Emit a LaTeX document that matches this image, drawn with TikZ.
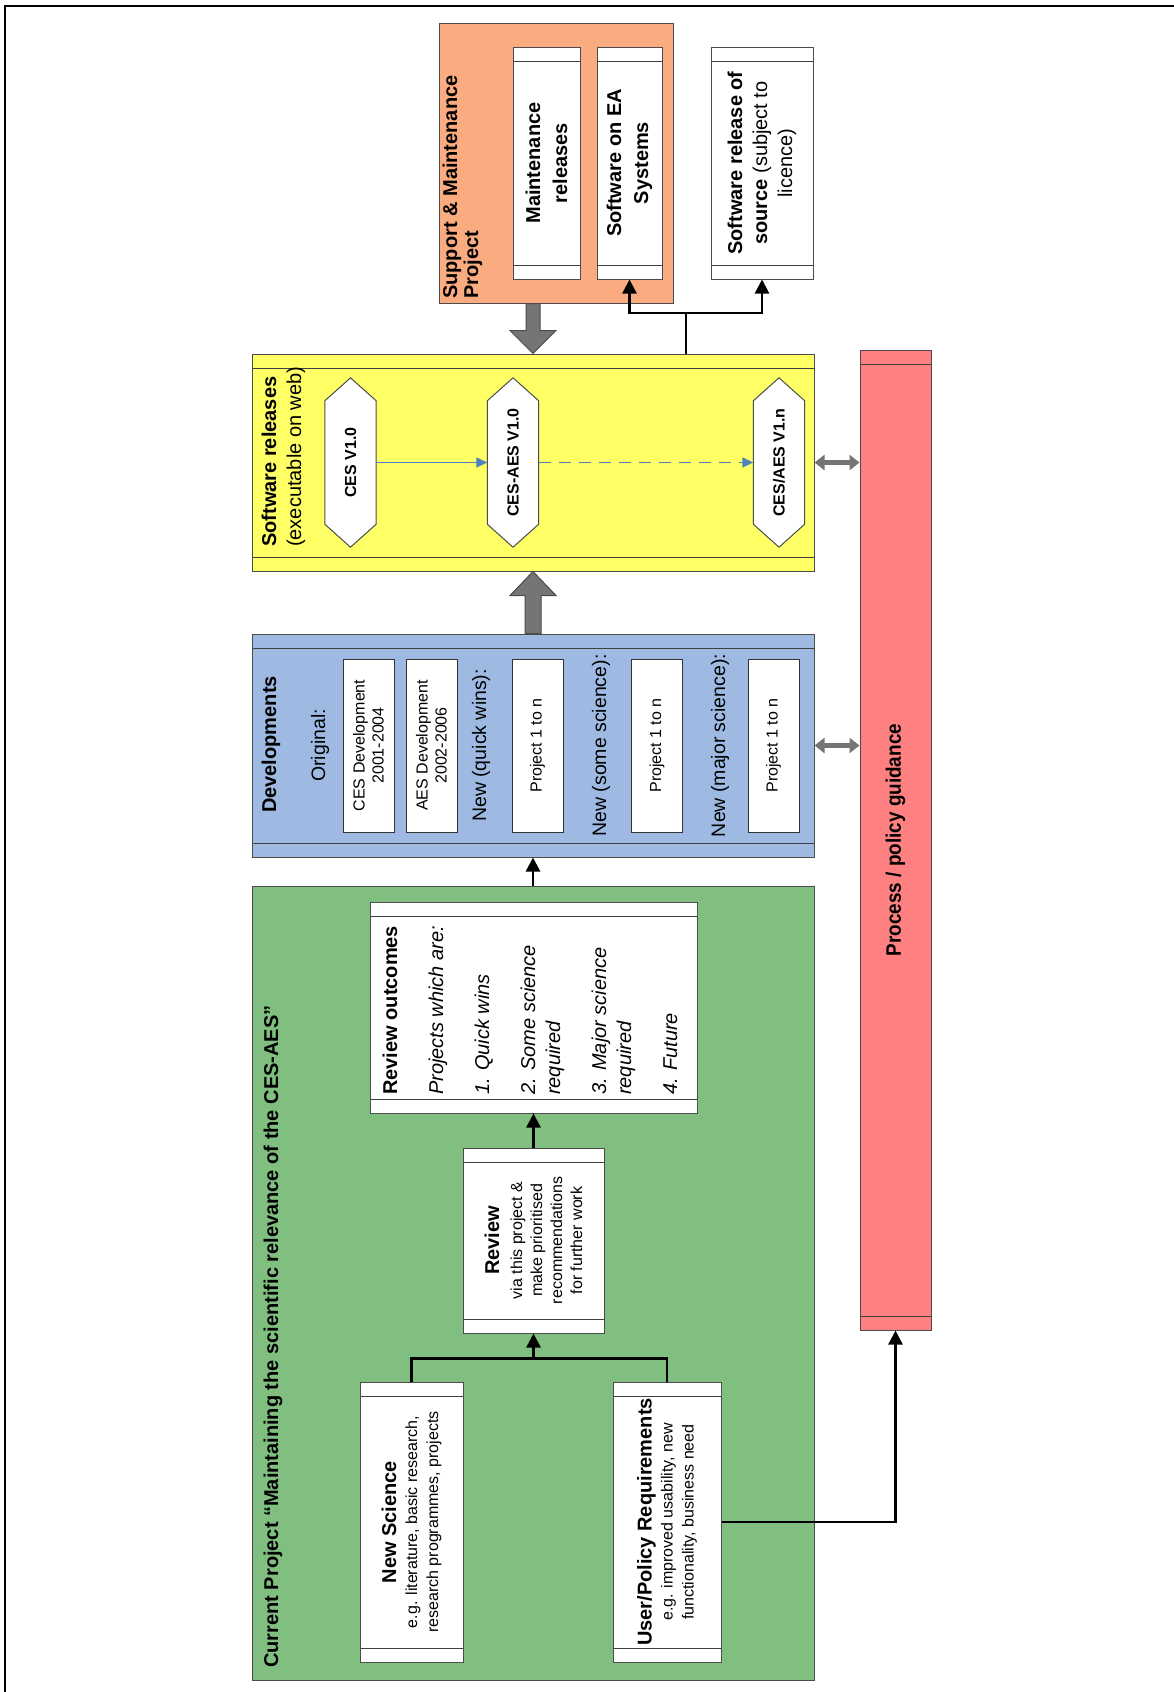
\documentclass[tikz,border=0pt]{standalone}
\usepackage{fontspec}
\setmainfont{Liberation Sans}
\newfontfamily\narrowfont[FakeStretch=0.9]{Liberation Sans}
\usetikzlibrary{arrows.meta}
\usetikzlibrary{positioning}
\definecolor{suppcol}{rgb}{0.98, 0.67, 0.5}
\definecolor{relcol}{rgb}{1, 1, 0.4}
\definecolor{devcol}{rgb}{0.62, 0.73, 0.89}
\definecolor{curcol}{rgb}{0.5, 0.75, 0.5}
\definecolor{proccol}{rgb}{1, 0.5, 0.5}
\definecolor{flowblue}{rgb}{0.31, 0.51, 0.74}
\definecolor{blockgray}{rgb}{0.46, 0.46, 0.46}
\newcommand{\fhead}{\fontsize{20}{21}\selectfont\bfseries}
\newcommand{\ftwo}{\fontsize{20}{25}\selectfont}
\newcommand{\flabel}{\fontsize{19.5}{23}\selectfont}
\newcommand{\fsmall}{\fontsize{16}{19}\selectfont}
\newcommand{\fhex}{\fontsize{16}{19}\selectfont\bfseries}
\newcommand{\fproc}{\narrowfont\fontsize{21}{25}\selectfont\bfseries}
\tikzset{plain/.style = {draw = black!70, line width = 1pt, inner sep = 0}}
\tikzset{lane/.style = {plain, fill = white,
                        path picture = {\draw [black!75, line width = 1pt]
                          ([yshift = -14pt] path picture bounding box.north west) -- ([yshift = -14pt] path picture bounding box.north east)
                          ([yshift = 14pt] path picture bounding box.south west) -- ([yshift = 14pt] path picture bounding box.south east);}}}
\tikzset{whitebox/.style = {plain, fill = white, draw = black!80, minimum width = 51pt, minimum height = 173pt}}
\tikzset{hexbox/.style = {inner sep = 0, minimum width = 51pt, minimum height = 169pt}}
\tikzset{hexline/.style = {draw = black!70, fill = white, line width = 1pt}}
\tikzset{vtxt/.style = {rotate = 90, inner sep = 0, align = center}}
\tikzset{flow/.style = {line width = 2.5pt, -{Triangle[width = 14pt, length = 14pt]}}}
\tikzset{link/.style = {line width = 2.5pt}}
\tikzset{bflow/.style = {flowblue, line width = 1.5pt, -{Triangle[width = 10pt, length = 11pt]}}}
\tikzset{bigarrow/.style = {fill = blockgray, draw = black!70, line width = 1pt}}
\tikzset{dblarrow/.style = {blockgray, line width = 5pt,
                            {Triangle[width = 15pt, length = 10pt]}-{Triangle[width = 15pt, length = 10pt]}}}

\begin{document}
\begin{tikzpicture}[x = 1pt, y = -1pt]
  \useasboundingbox (0, 0) rectangle (1174, 1692);
  \draw [line width = 2pt] (5, 1692) -- (5, 6) -- (1174, 6);

  \node [plain, fill = suppcol, minimum width = 234pt, minimum height = 280pt] (supp) at (556, 163) {};
  \node [vtxt, anchor = west, align = left, font = \fhead] at (462.5, 299) {Support \& Maintenance\\Project};
  \node [lane, minimum width = 67pt, minimum height = 232pt] (maint) at (546.5, 163) {};
  \node [vtxt, font = \fontsize{20}{27}\selectfont\bfseries] at (maint) {Maintenance\\releases};
  \node [lane, minimum width = 65pt, minimum height = 232pt] (soea) at (629.5, 163) {};
  \node [vtxt, font = \fontsize{20}{27}\selectfont\bfseries] at (soea) {Software on EA\\Systems};
  \node [lane, minimum width = 102pt, minimum height = 232pt] (src) at (762, 163) {};
  \node [vtxt, font = \ftwo] at (src) {\textbf{Software release of}\\\textbf{source} (subject to\\licence)};

  \node [lane, fill = relcol, minimum width = 562pt, minimum height = 217pt] (rel) at (533, 462.5) {};
  \node [vtxt, anchor = west, align = left, font = \ftwo] at (283.5, 547) {\textbf{Software releases}\\(executable on web)};
  \node [hexbox] (ces) at (350.5, 462.5) {};
  \node [hexbox] (cesaes) at (513, 462.5) {};
  \node [hexbox] (cesaesn) at (779, 462.5) {};
  \foreach \h in {ces, cesaes, cesaesn}
    \draw [hexline] (\h.north) -- ([yshift = -23pt] \h.north east) -- ([yshift = 23pt] \h.south east)
      -- (\h.south) -- ([yshift = 23pt] \h.south west) -- ([yshift = -23pt] \h.north west) -- cycle;
  \node [vtxt, font = \fhex] at (ces) {CES V1.0};
  \node [vtxt, font = \fhex] at (cesaes) {CES-AES V1.0};
  \node [vtxt, font = \fhex] at (cesaesn) {CES/AES V1.n};
  \draw [bflow] (ces) -- (cesaes);
  \draw [bflow, dash pattern = on 12pt off 8pt] (cesaes) -- (cesaesn);

  \node [lane, fill = devcol, minimum width = 562pt, minimum height = 223pt] (dev) at (533, 745.5) {};
  \node [vtxt, anchor = west, font = \fhead] at (271, 813) {Developments};
  \node [vtxt, font = \flabel] at (320, 745.5) {Original:};
  \node [whitebox] (cesdev) at (368.5, 745.5) {};
  \node [vtxt, font = \fsmall] at (cesdev) {CES Development\\2001-2004};
  \node [whitebox] (aesdev) at (431.5, 745.5) {};
  \node [vtxt, font = \fsmall] at (aesdev) {AES Development\\2002-2006};
  \node [vtxt, font = \flabel] at (481, 745.5) {New (quick wins):};
  \node [whitebox] (quick) at (537.5, 745.5) {};
  \node [vtxt, font = \fsmall] at (quick) {Project 1 to n};
  \node [vtxt, font = \flabel] at (601, 745.5) {New (some science):};
  \node [whitebox] (some) at (657, 745.5) {};
  \node [vtxt, font = \fsmall] at (some) {Project 1 to n};
  \node [vtxt, font = \flabel] at (720, 745.5) {New (major science):};
  \node [whitebox] (major) at (773.5, 745.5) {};
  \node [vtxt, font = \fsmall] at (major) {Project 1 to n};

  \node [plain, fill = curcol, minimum width = 562pt, minimum height = 794pt] (cur) at (533, 1283) {};
  \node [vtxt, anchor = west, font = \fhead] at (273, 1668) {Current Project “Maintaining the scientific relevance of the CES-AES”};
  \node [lane, minimum width = 327pt, minimum height = 211pt] (outc) at (533.5, 1007.5) {};
  \node [vtxt, anchor = west, align = left, font = \ftwo] at (530, 1095)
    {\textbf{Review outcomes}\\[21pt]\textit{Projects which are:}\\[21pt]\textit{1. Quick wins}\\[21pt]
     \textit{2. Some science}\\\textit{required}\\[21pt]\textit{3. Major science}\\\textit{required}\\[21pt]\textit{4. Future}};
  \node [lane, minimum width = 141pt, minimum height = 185pt] (rev) at (533.5, 1240.5) {};
  \node [vtxt, font = \fontsize{16}{20}\selectfont] at (rev)
    {{\fhead Review}\\[3pt]via this project \&\\make prioritised\\recommendations\\for further work};
  \node [lane, minimum width = 103pt, minimum height = 280pt] (newsci) at (411.5, 1522) {};
  \node [vtxt, font = \fontsize{16}{21}\selectfont] at (newsci)
    {{\fhead New Science}\\e.g. literature, basic research,\\research programmes, projects};
  \node [lane, minimum width = 108pt, minimum height = 280pt] (userreq) at (667, 1522) {};
  \node [vtxt, font = \fontsize{16}{21}\selectfont] at (userreq)
    {{\fhead User/Policy Requirements}\\e.g. improved usability, new\\functionality, business need};

  \node [lane, fill = proccol, minimum width = 71pt, minimum height = 980pt] (proc) at (895.5, 840) {};
  \node [vtxt, font = \fproc] at (proc) {Process / policy guidance};

  \draw [bigarrow] ([xshift = -7pt] rel.north |- supp.south) -- ([xshift = -7pt, yshift = 23pt] rel.north)
    -- ([xshift = -23pt, yshift = 23pt] rel.north) -- (rel.north) -- ([xshift = 23pt, yshift = 23pt] rel.north)
    -- ([xshift = 7pt, yshift = 23pt] rel.north) -- ([xshift = 7pt] rel.north |- supp.south) -- cycle;
  \draw [bigarrow] ([xshift = -8pt] dev.north) -- ([xshift = -8pt, yshift = -24pt] rel.south)
    -- ([xshift = -23pt, yshift = -24pt] rel.south) -- (rel.south) -- ([xshift = 23pt, yshift = -24pt] rel.south)
    -- ([xshift = 8pt, yshift = -24pt] rel.south) -- ([xshift = 8pt] dev.north) -- cycle;
  \draw [dblarrow] (rel.east) -- (rel.east -| proc.west);
  \draw [dblarrow] (dev.east) -- (dev.east -| proc.west);

  \coordinate (jsrc) at (686, 313);
  \draw [link] (jsrc |- rel.north) -- (jsrc);
  \draw [flow] (jsrc) -| (soea.south);
  \draw [flow] (jsrc) -| (src.south);

  \draw [flow] (cur.north) -- (dev.south);
  \draw [flow] (rev.north) -- (outc.south);
  \coordinate [below = 25pt of rev.south] (jrev);
  \draw [link] (newsci.north) |- (jrev) -| (userreq.north);
  \draw [flow] (jrev) -- (rev.south);
  \draw [flow] (userreq.east) -| (proc.south);
\end{tikzpicture}
\end{document}
